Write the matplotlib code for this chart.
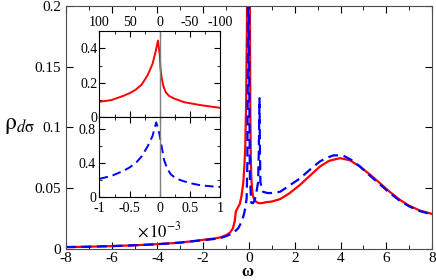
import matplotlib
matplotlib.use("Agg")
import matplotlib.pyplot as plt
from matplotlib.ticker import MultipleLocator

plt.rcParams['font.family'] = ['Liberation Serif', 'DejaVu Serif']
plt.rcParams['mathtext.fontset'] = 'stix'
plt.rcParams['axes.unicode_minus'] = False

# main panel: spectral function vs omega
omega_red = [-8, -7, -6, -5, -4, -3, -2.5, -2, -1.5, -1.25, -1.0, -0.83, -0.7, -0.62,
             -0.57, -0.5, -0.4, -0.33, -0.25, -0.2, -0.16, -0.12, -0.09, -0.06, -0.03,
             0.0, 0.02, 0.04, 0.06, 0.08, 0.1, 0.13, 0.17, 0.22, 0.3, 0.4, 0.5, 0.6,
             0.75, 1.0, 1.36, 1.75, 2.23, 2.65, 3.1, 3.5, 3.98, 4.4, 4.85, 5.3, 5.73,
             6.15, 6.6, 7.0, 7.48, 8.0]
rho_red = [0.0015, 0.0018, 0.0023, 0.003, 0.0039, 0.0052, 0.0063, 0.0075, 0.0086,
           0.0095, 0.0113, 0.0134, 0.017, 0.023, 0.031, 0.0335, 0.037, 0.043, 0.054,
           0.068, 0.085, 0.123, 0.18, 0.26, 0.4, 0.5, 0.4, 0.2, 0.11, 0.075, 0.06,
           0.05, 0.044, 0.041, 0.039, 0.0378, 0.0376, 0.0378, 0.0385, 0.039, 0.041,
           0.0455, 0.0527, 0.060, 0.0678, 0.0725, 0.0747, 0.073, 0.0678, 0.061, 0.054,
           0.047, 0.0403, 0.0355, 0.0315, 0.0288]

omega_blue = [-8, -7, -6, -5, -4, -3, -2.5, -2, -1.5, -1.27, -1.0, -0.69, -0.47, -0.3,
              -0.2, -0.15, -0.1, -0.07, -0.05, -0.02, 0.01, 0.04, 0.1, 0.175, 0.25,
              0.32, 0.4, 0.43, 0.46, 0.48, 0.5, 0.56, 0.62, 0.8, 1.0, 1.36, 1.75, 2.23,
              2.65, 3.1, 3.4, 3.7, 4.1, 4.45, 4.85, 5.3, 5.73, 6.15, 6.6, 7.0, 7.48, 8.0]
rho_blue = [0.0015, 0.0018, 0.0023, 0.003, 0.0039, 0.0052, 0.0062, 0.0072, 0.0082,
            0.0087, 0.0105, 0.0129, 0.017, 0.023, 0.03, 0.035, 0.042, 0.07, 0.15, 0.5,
            0.15, 0.06, 0.038, 0.0376, 0.040, 0.046, 0.055, 0.08, 0.124, 0.08, 0.055,
            0.05, 0.047, 0.046, 0.046, 0.047, 0.052, 0.058, 0.065, 0.072, 0.075, 0.077,
            0.077, 0.0735, 0.0678, 0.060, 0.053, 0.046, 0.0395, 0.035, 0.031, 0.0285]

# inset: low-energy region, x in units of 1e-3
x_up = [-1, -0.8, -0.6, -0.5, -0.4, -0.3, -0.2, -0.12, -0.07, -0.03, 0.0, 0.01, 0.03,
        0.06, 0.1, 0.15, 0.23, 0.4, 0.67, 0.85, 1.0]
red_up = [0.09, 0.10, 0.125, 0.14, 0.16, 0.19, 0.245, 0.31, 0.38, 0.445, 0.36, 0.29,
          0.23, 0.18, 0.145, 0.125, 0.11, 0.088, 0.071, 0.062, 0.055]

x_dn = [-1, -0.8, -0.6, -0.5, -0.4, -0.3, -0.2, -0.12, -0.06, -0.03, 0.0, 0.03, 0.07,
        0.12, 0.18, 0.25, 0.34, 0.5, 0.67, 0.85, 1.0]
blue_dn = [0.215, 0.25, 0.31, 0.35, 0.40, 0.48, 0.6, 0.72, 0.88, 0.82, 0.72, 0.6, 0.44,
           0.34, 0.27, 0.23, 0.2, 0.165, 0.14, 0.127, 0.12]

top_labels = ['100', '50', '0', '-50', '-100']

fig = plt.figure(figsize=(4.36, 2.8), dpi=100)
ax = fig.add_axes([0.151, 0.111, 0.840, 0.868])
ax.plot(omega_red, rho_red, color='red', lw=1.6)
ax.plot(omega_blue, rho_blue, color='blue', lw=1.6, ls=(0, (4.5, 2.5)))
ax.set_xlim(-8, 8)
ax.set_ylim(0, 0.2)
ax.set_xticks([-8, -6, -4, -2, 0, 2, 4, 6, 8])
ax.set_yticks([0, 0.05, 0.1, 0.15, 0.2])
ax.set_yticklabels(['0', '0.05', '0.1', '0.15', '0.2'])
ax.xaxis.set_minor_locator(MultipleLocator(1))
ax.tick_params(which='both', direction='in', top=True, right=True, labelsize=11)
ax.tick_params(axis='x', pad=2.5)
ax.tick_params(which='major', length=5)
ax.tick_params(which='minor', length=3)
for s in ax.spines.values():
    s.set_color('0.3')

fig.text(0.045, 0.55, r'$\mathrm{\rho}_{d\mathrm{\sigma}}$', fontsize=17,
         ha='center', va='center')
fig.text(0.568, 0.0, 'ω', fontsize=12, fontweight='bold', ha='center', va='bottom')

# inset upper panel
ax1 = fig.add_axes([0.228, 0.581, 0.277, 0.308])
ax1.plot(x_up, red_up, color='red', lw=1.4)
ax1.axvline(0, color='0.5', lw=1)
ax1.set_xlim(-1, 1)
ax1.set_ylim(0, 0.5)
ax1.set_yticks([0, 0.2, 0.4])
ax1.set_yticklabels(['0', '0.2', '0.4'])
ax1.set_xticks([-1, -0.5, 0, 0.5, 1])
ax1.set_xticklabels(top_labels)
ax1.yaxis.set_minor_locator(MultipleLocator(0.1))
ax1.xaxis.set_minor_locator(MultipleLocator(0.25))
ax1.tick_params(which='both', direction='in', top=True, right=True, bottom=True,
                labeltop=True, labelbottom=False, labelsize=10, pad=1.5)
ax1.tick_params(which='major', length=4)
ax1.tick_params(which='minor', length=2)

# inset lower panel
ax2 = fig.add_axes([0.228, 0.296, 0.277, 0.285])
ax2.plot(x_dn, blue_dn, color='blue', lw=1.4, ls=(0, (4.5, 2.5)))
ax2.axvline(0, color='0.5', lw=1)
ax2.set_xlim(-1, 1)
ax2.set_ylim(0, 0.94)
ax2.set_yticks([0, 0.4, 0.8])
ax2.set_yticklabels(['0', '0.4', '0.8'])
ax2.set_xticks([-1, -0.5, 0, 0.5, 1])
ax2.set_xticklabels(['-1', '-0.5', '0', '0.5', '1'])
ax2.yaxis.set_minor_locator(MultipleLocator(0.2))
ax2.xaxis.set_minor_locator(MultipleLocator(0.25))
ax2.tick_params(which='both', direction='in', top=True, right=True,
                labelsize=10, pad=2.5)
ax2.tick_params(axis='x', pad=3.5)
ax2.tick_params(which='major', length=4)
ax2.tick_params(which='minor', length=2)

fig.text(0.365, 0.175, r'$\times\,10^{-3}$', fontsize=12, ha='center', va='center')

fig.savefig('out.png', dpi=100)
